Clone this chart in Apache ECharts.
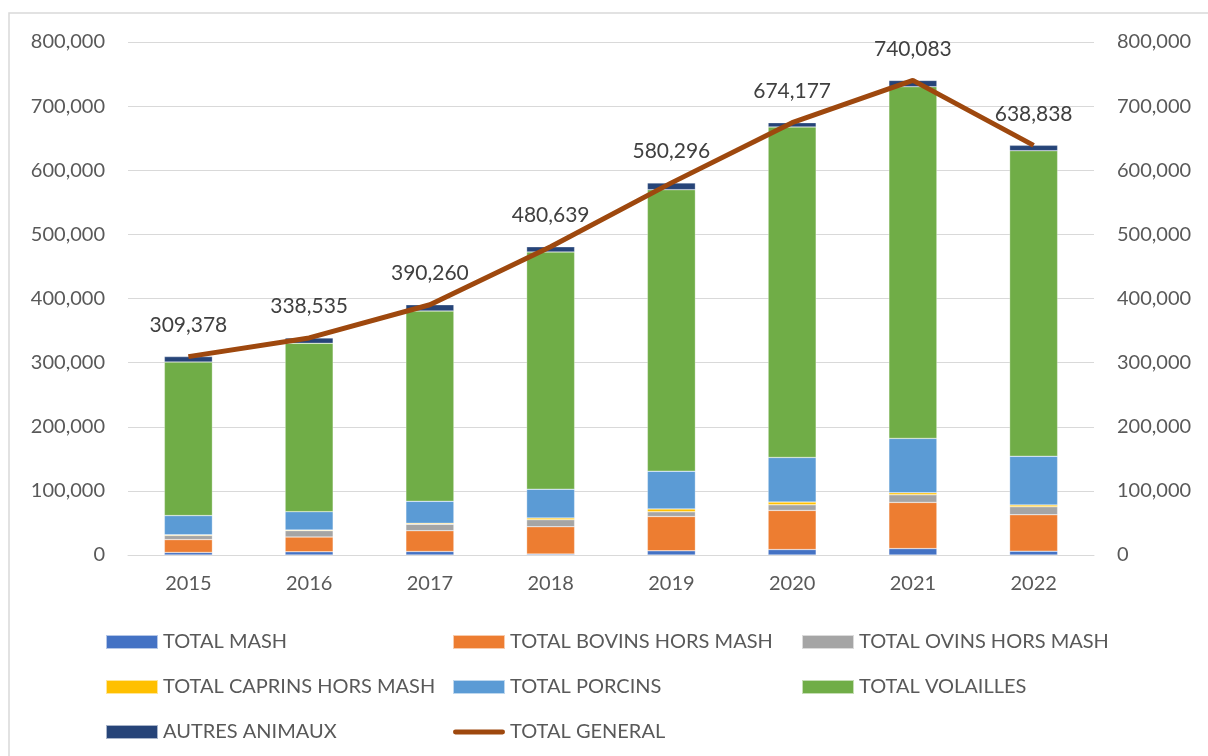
<!DOCTYPE html>
<html>
<head>
<meta charset="utf-8">
<script src="https://cdn.jsdelivr.net/npm/echarts@6/dist/echarts.min.js"></script>
<style>
  html, body { margin: 0; padding: 0; background: #fff; }
  #chart { width: 1208px; height: 756px; }
</style>
</head>
<body>
<div id="chart"></div>
<script>
const years = ["2015", "2016", "2017", "2018", "2019", "2020", "2021", "2022"];

// valeurs (estimations)
const totalMash = [4000, 5000, 5500, 1500, 6500, 8500, 10000, 6000];
const bovins = [20000, 23000, 32400, 42600, 53500, 61000, 72000, 56800];
const ovins = [6500, 10000, 10000, 11000, 7300, 8700, 11800, 12500];
const caprins = [1000, 1000, 1500, 2700, 4600, 4300, 3200, 2700];
const porcins = [30000, 28600, 34300, 44800, 58800, 69600, 84800, 75900];
const volailles = [239400, 262500, 296800, 370000, 439000, 515400, 548500, 476600];
const autres = [8478, 8435, 9760, 8039, 10596, 6677, 9783, 8338];
const totalGeneral = [309378, 338535, 390260, 480639, 580296, 674177, 740083, 638838];

const yTicks = [0, 100000, 200000, 300000, 400000, 500000, 600000, 700000, 800000];

const textColor = "#595959";
const font = "Lato";

const chart = echarts.init(document.getElementById("chart"));

function barSerie(name, data, color) {
  return {
    name: name,
    type: "bar",
    stack: "total",
    data: data,
    barWidth: 48,
    itemStyle: { color: color, borderColor: "rgba(255,255,255,0.6)", borderWidth: 0.5 },
  };
}

function fmt(v) {
  return v.toLocaleString("en-US");
}

const yAxisBase = {
  type: "value",
  min: yTicks[0],
  max: yTicks[yTicks.length - 1],
  interval: 100000,
  axisLine: { show: false },
  axisTick: { show: false },
  axisLabel: { color: textColor, fontFamily: font, fontSize: 20, margin: 23, formatter: fmt },
};

const legendText = { color: textColor, fontFamily: font, fontSize: 20, lineHeight: 20 };
const legendBase = {
  top: 632, orient: "vertical", padding: 0, icon: "rect",
  itemWidth: 52, itemHeight: 14, itemGap: 25,
  textStyle: legendText,
};

const option = {
  animation: false,
  textStyle: { fontFamily: font },
  graphic: [
    {
      type: "rect",
      shape: { x: 9, y: 13, width: 1400, height: 1000 },
      style: { fill: "none", stroke: "#D9D9D9", lineWidth: 1.5 },
    },
  ],
  grid: { left: 128, right: 114, top: 42, bottom: 201 },
  xAxis: {
    type: "category",
    data: years,
    axisLine: { lineStyle: { color: "#D9D9D9", width: 1 } },
    axisTick: { show: false },
    axisLabel: { color: textColor, fontFamily: font, fontSize: 20, margin: 19 },
  },
  yAxis: [
    Object.assign({}, yAxisBase, {
      splitLine: { lineStyle: { color: "#D9D9D9", width: 1 } },
    }),
    Object.assign({}, yAxisBase, { splitLine: { show: false } }),
  ],
  legend: [
    Object.assign({}, legendBase, {
      left: 105,
      data: ["TOTAL MASH", "TOTAL CAPRINS HORS MASH", "AUTRES ANIMAUX"],
    }),
    Object.assign({}, legendBase, {
      left: 452,
      data: [
        "TOTAL BOVINS HORS MASH",
        "TOTAL PORCINS",
        { name: "TOTAL GENERAL", icon: "path://M2 0 H50 A2.5 2.5 0 0 1 50 5 H2 A2.5 2.5 0 0 1 2 0 Z" },
      ],
    }),
    Object.assign({}, legendBase, {
      left: 801,
      data: ["TOTAL OVINS HORS MASH", "TOTAL VOLAILLES"],
    }),
  ],
  series: [
    barSerie("TOTAL MASH", totalMash, "#4472C4"),
    barSerie("TOTAL BOVINS HORS MASH", bovins, "#ED7D31"),
    barSerie("TOTAL OVINS HORS MASH", ovins, "#A5A5A5"),
    barSerie("TOTAL CAPRINS HORS MASH", caprins, "#FFC000"),
    barSerie("TOTAL PORCINS", porcins, "#5B9BD5"),
    barSerie("TOTAL VOLAILLES", volailles, "#70AD47"),
    barSerie("AUTRES ANIMAUX", autres, "#264478"),
    {
      name: "TOTAL GENERAL",
      type: "line",
      yAxisIndex: 1,
      data: totalGeneral,
      symbol: "circle",
      symbolSize: 0,
      showSymbol: true,
      lineStyle: { color: "#9E480E", width: 5 },
      itemStyle: { color: "#9E480E" },
      label: {
        show: true,
        position: "top",
        distance: 21,
        color: "#404040",
        fontFamily: font,
        fontSize: 21,
        formatter: (p) => fmt(p.value),
      },
      z: 5,
    },
  ],
};

chart.setOption(option);
</script>
</body>
</html>
